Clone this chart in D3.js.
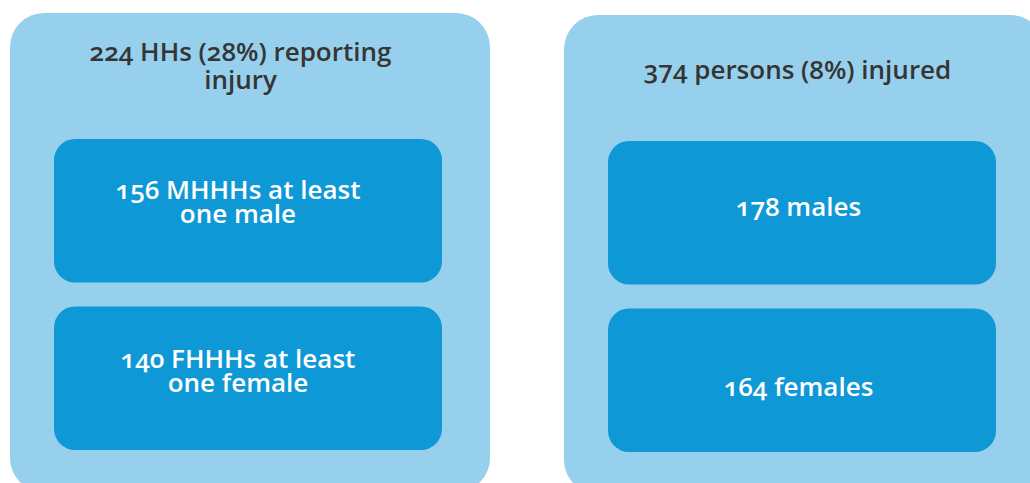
<!DOCTYPE html>
<html>
<head>
<meta charset="utf-8">
<script src="https://cdn.jsdelivr.net/npm/d3@7"></script>
<style>
  body { margin: 0; background: #fff; }
  text { font-family: "Open Sans", "Noto Sans", sans-serif; font-weight: 600; font-variant-numeric: oldstyle-nums; }
</style>
</head>
<body>
<div id="chart"></div>
<script>
// Data: one panel per group, each with a headline and two breakdown boxes
const panelIds = ["households", "persons"];
const panelTitles = [
  ["224 HHs (28%) reporting", "injury"],
  ["374 persons (8%) injured"]
];
const boxLabels = [
  [["156 MHHHs at least", "one male"], ["140 FHHHs at least", "one female"]],
  [["178 males"], ["164 females"]]
];

// Layout
const width = 1030, height = 483;
const panelTop = [13, 15];      // the right panel sits a touch lower
const panelHeight = 479;        // runs off the bottom edge
const panelRadius = 34, boxRadius = 21;
const boxInsetLeft = 44, boxInsetRight = 48;
const titleDx = [-9.5, -6.5];   // title centre relative to panel centre
const titleY = [[48, 76], [64]];
const labelDx = [-10, -3.5];    // label centre relative to box centre
const labelY = [[[60, 84], [61.5, 85.5]], [[75], [87.5]]];

const svg = d3.select("#chart").append("svg")
    .attr("width", width)
    .attr("height", height);

const x = d3.scaleBand()
    .domain(panelIds)
    .range([10, 1044])
    .paddingInner(0.1336)
    .paddingOuter(0);

const boxW = x.bandwidth() - boxInsetLeft - boxInsetRight;

const y = d3.scaleBand()
    .domain([0, 1])
    .range([126, 437])
    .paddingInner(0.143)
    .paddingOuter(0);

const panel = svg.selectAll("g.panel")
  .data(panelIds)
  .join("g")
    .attr("class", "panel")
    .attr("transform", (d, i) => `translate(${x(d)},${panelTop[i]})`);

panel.append("rect")
    .attr("width", x.bandwidth())
    .attr("height", panelHeight)
    .attr("rx", panelRadius)
    .attr("fill", "#97d0ec");

panel.append("text")
    .attr("text-anchor", "middle")
    .attr("font-size", 26)
    .attr("fill", "#353535")
  .selectAll("tspan")
  .data((d, i) => panelTitles[i].map((t, j) => ({t, i, j})))
  .join("tspan")
    .attr("x", d => x.bandwidth() / 2 + titleDx[d.i])
    .attr("y", d => titleY[d.i][d.j])
    .text(d => d.t);

const box = panel.selectAll("g.box")
  .data((d, i) => boxLabels[i].map((lines, j) => ({lines, i, j})))
  .join("g")
    .attr("class", "box")
    .attr("transform", d => `translate(${boxInsetLeft},${y(d.j)})`);

box.append("rect")
    .attr("width", boxW)
    .attr("height", y.bandwidth())
    .attr("rx", boxRadius)
    .attr("fill", "#0f98d6");

box.append("text")
    .attr("text-anchor", "middle")
    .attr("font-size", 26)
    .attr("fill", "#ffffff")
  .selectAll("tspan")
  .data(d => d.lines.map((t, k) => ({t, i: d.i, j: d.j, k})))
  .join("tspan")
    .attr("x", d => boxW / 2 + labelDx[d.i])
    .attr("y", d => labelY[d.i][d.j][d.k])
    .text(d => d.t);
</script>
</body>
</html>
